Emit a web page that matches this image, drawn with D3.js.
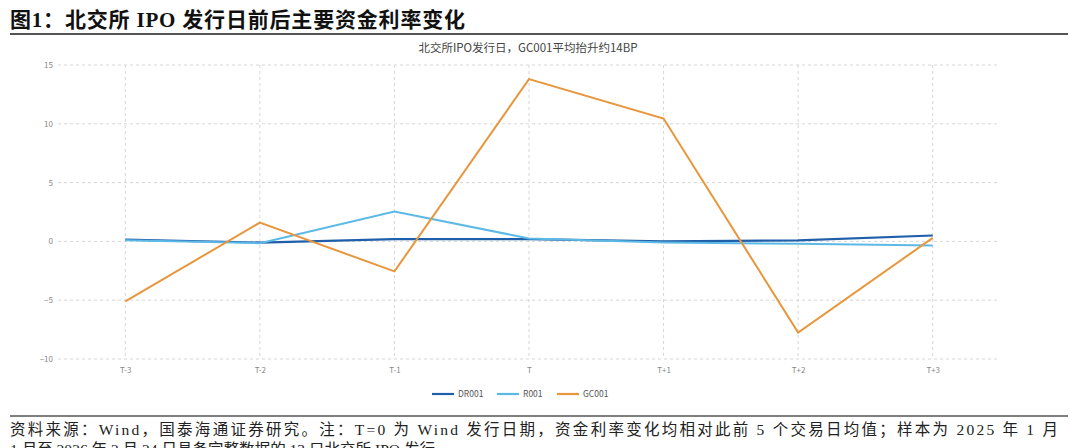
<!DOCTYPE html>
<html>
<head>
<meta charset="utf-8">
<script src="https://cdn.jsdelivr.net/npm/d3@7"></script>
<style>
  body { margin: 0; background: #fff; }
  svg { display: block; }
</style>
</head>
<body>
<svg id="chart" width="1080" height="448"></svg>
<script>
// data
const days = ['T-3', 'T-2', 'T-1', 'T', 'T+1', 'T+2', 'T+3'];
const dr001 = [0.15, -0.1, 0.2, 0.2, 0.0, 0.08, 0.5];
const r001 = [0.1, -0.15, 2.55, 0.25, -0.1, -0.2, -0.35];
const gc001 = [-5.1, 1.6, -2.55, 13.8, 10.45, -7.75, 0.3];
const yTicks = [-10, -5, 0, 5, 10, 15];

const series = [
  { name: 'DR001', values: dr001, color: '#1f5ea8', width: 2.2 },
  { name: 'R001', values: r001, color: '#5cb9e6', width: 2 },
  { name: 'GC001', values: gc001, color: '#e8963c', width: 2 }
];

const W = 1080, H = 448;
const plot = { left: 58, right: 1000, top: 65, bottom: 359 };
const svg = d3.select('#chart');

const serif = '"Liberation Serif", "Times New Roman", "Noto Sans CJK SC", serif';
const sans = '"Noto Sans CJK SC", "Noto Sans", sans-serif';

// header
svg.append('text')
  .attr('x', 10).attr('y', 27)
  .attr('font-family', serif).attr('font-weight', 'bold')
  .attr('font-size', 21).attr('fill', '#111')
  .attr('textLength', 455).attr('lengthAdjust', 'spacing')
  .text('图1：北交所 IPO 发行日前后主要资金利率变化');

svg.append('line')
  .attr('x1', 10).attr('x2', 1068).attr('y1', 34).attr('y2', 34)
  .attr('stroke', '#555').attr('stroke-width', 2);

// chart title
svg.append('text')
  .attr('x', 528).attr('y', 52)
  .attr('text-anchor', 'middle')
  .attr('font-family', sans).attr('font-size', 11.5).attr('fill', '#444')
  .text('北交所IPO发行日，GC001平均抬升约14BP');

const x = d3.scalePoint().domain(days).range([plot.left, plot.right]).padding(0.5);
const y = d3.scaleLinear().domain([-10, 15]).range([plot.bottom, plot.top]);

// grid
const grid = svg.append('g').attr('stroke', '#d6d6d6').attr('stroke-dasharray', '3,3').attr('stroke-width', 1);
grid.selectAll('line.h').data(yTicks).enter().append('line')
  .attr('x1', plot.left).attr('x2', plot.right)
  .attr('y1', d => y(d)).attr('y2', d => y(d));
grid.selectAll('line.v').data(days).enter().append('line')
  .attr('x1', d => x(d)).attr('x2', d => x(d))
  .attr('y1', plot.top).attr('y2', plot.bottom);

// axes (labels only)
const yAxis = svg.append('g')
  .attr('transform', `translate(${plot.left - 5},0)`)
  .call(d3.axisLeft(y).tickValues(yTicks).tickSize(0).tickPadding(0));
yAxis.select('.domain').remove();
yAxis.selectAll('text').attr('font-family', sans).attr('font-size', 8).attr('fill', '#888');

const xAxis = svg.append('g')
  .attr('transform', `translate(0,${plot.bottom + 8})`)
  .call(d3.axisBottom(x).tickSize(0).tickPadding(0));
xAxis.select('.domain').remove();
xAxis.selectAll('text').attr('font-family', sans).attr('font-size', 8).attr('fill', '#888');

// lines
const line = d3.line().x((d, i) => x(days[i])).y(d => y(d));
svg.append('g').selectAll('path').data(series).enter().append('path')
  .attr('d', d => line(d.values))
  .attr('fill', 'none')
  .attr('stroke', d => d.color)
  .attr('stroke-width', d => d.width)
  .attr('stroke-linejoin', 'miter');

// legend
const legendX = [432, 497, 557];
const legend = svg.append('g').selectAll('g').data(series).enter().append('g')
  .attr('transform', (d, i) => `translate(${legendX[i]},394)`);
legend.append('line')
  .attr('x1', 0).attr('x2', 22).attr('y1', 0).attr('y2', 0)
  .attr('stroke', d => d.color).attr('stroke-width', 2.2);
legend.append('text')
  .attr('x', 26).attr('y', 3)
  .attr('font-family', sans).attr('font-size', 8.5).attr('fill', '#555')
  .text(d => d.name);

// footer
svg.append('line')
  .attr('x1', 10).attr('x2', 1068).attr('y1', 416).attr('y2', 416)
  .attr('stroke', '#555').attr('stroke-width', 1.5);

svg.append('text')
  .attr('x', 10).attr('y', 435)
  .attr('font-family', serif).attr('font-size', 15.5).attr('fill', '#222')
  .attr('textLength', 1048).attr('lengthAdjust', 'spacing')
  .text('资料来源：Wind，国泰海通证券研究。注：T=0 为 Wind 发行日期，资金利率变化均相对此前 5 个交易日均值；样本为 2025 年 1 月');

svg.append('text')
  .attr('x', 10).attr('y', 455)
  .attr('font-family', serif).attr('font-size', 15.5).attr('fill', '#222')
  .attr('textLength', 425).attr('lengthAdjust', 'spacing')
  .text('1 月至 2026 年 2 月 24 日具备完整数据的 13 只北交所 IPO 发行');
</script>
</body>
</html>
